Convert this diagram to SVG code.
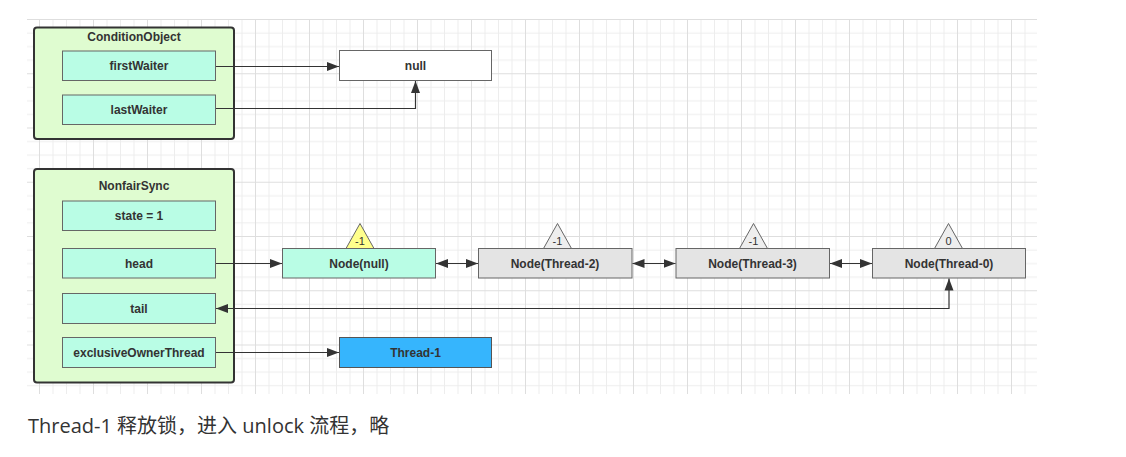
<svg xmlns="http://www.w3.org/2000/svg" width="1126" height="457" viewBox="0 0 1126 457">
  <defs>
    <pattern id="grid" patternUnits="userSpaceOnUse" x="39" y="19" width="54" height="54.25">
      <path d="M14,0V54.25M27.5,0V54.25M41,0V54.25M0,14H54M0,27.6H54M0,41.2H54" stroke="#ededed" stroke-width="1" fill="none"/>
      <path d="M0.5,0V54.25M0,0.5H54" stroke="#dedede" stroke-width="1" fill="none"/>
    </pattern>
    <marker id="arr" markerUnits="userSpaceOnUse" markerWidth="12" markerHeight="10" viewBox="0 0 12 10" refX="12" refY="5" orient="auto-start-reverse">
      <path d="M0,0.5L12,5L0,9.5z" fill="#333"/>
    </marker>
  </defs>
  <style>
    .container { fill: #dffcd0; stroke: #333; stroke-width: 2; }
    .field { fill: #b9fde5; stroke: #666; stroke-width: 1; }
    .gnode { fill: #e4e4e4; stroke: #666; stroke-width: 1; }
    .lbl { font-family: "Liberation Sans", Arial, sans-serif; font-size: 12px; font-weight: bold; fill: #333; text-anchor: middle; }
    .tri { stroke: #666; stroke-width: 1; }
    .tlbl { font-family: "Liberation Sans", Arial, sans-serif; font-size: 11px; fill: #333; text-anchor: middle; }
    .conn { fill: none; stroke: #333; stroke-width: 1.2; }
  </style>
  <rect x="0" y="0" width="1126" height="457" fill="#ffffff"/>
  <rect x="27" y="19" width="1010" height="375" fill="url(#grid)"/>

  <g id="ConditionObject">
    <rect class="container" x="34" y="27.5" width="200" height="111.5" rx="3"/>
    <text class="lbl" x="134" y="41">ConditionObject</text>
  </g>
  <g id="firstWaiter">
    <rect class="field" x="62.5" y="51" width="153" height="29.5"/>
    <text class="lbl" x="139" y="70">firstWaiter</text>
  </g>
  <g id="lastWaiter">
    <rect class="field" x="62.5" y="95" width="153" height="29.5"/>
    <text class="lbl" x="139" y="114">lastWaiter</text>
  </g>
  <g id="null">
    <rect x="339.5" y="50.5" width="152" height="30" fill="#ffffff" stroke="#666" stroke-width="1"/>
    <text class="lbl" x="415.5" y="70">null</text>
  </g>

  <g id="NonfairSync">
    <rect class="container" x="34" y="169" width="200" height="213.5" rx="3"/>
    <text class="lbl" x="134" y="190">NonfairSync</text>
  </g>
  <g id="state">
    <rect class="field" x="62.5" y="201" width="153" height="29.5"/>
    <text class="lbl" x="139" y="220">state = 1</text>
  </g>
  <g id="head">
    <rect class="field" x="62.5" y="248.5" width="153" height="29.5"/>
    <text class="lbl" x="139" y="267.5">head</text>
  </g>
  <g id="tail">
    <rect class="field" x="62.5" y="293.5" width="153" height="30"/>
    <text class="lbl" x="139" y="313">tail</text>
  </g>
  <g id="exclusiveOwnerThread">
    <rect class="field" x="62.5" y="337.5" width="153" height="30"/>
    <text class="lbl" x="139" y="357">exclusiveOwnerThread</text>
  </g>
  <g id="Thread-1">
    <rect x="339.5" y="337.5" width="152" height="30" fill="#36b5fd" stroke="#555" stroke-width="1"/>
    <text class="lbl" x="415.5" y="357">Thread-1</text>
  </g>

  <g id="NodeNull">
    <rect class="field" x="282.5" y="248.5" width="153" height="29.5"/>
    <text class="lbl" x="359" y="267.5">Node(null)</text>
    <path class="tri" d="M360,223.5L374,248.5H346z" fill="#ffff8c"/>
    <text class="tlbl" x="360" y="244.5">-1</text>
  </g>
  <g id="NodeThread2">
    <rect class="gnode" x="478.5" y="248.5" width="153.5" height="29.5"/>
    <text class="lbl" x="555" y="267.5">Node(Thread-2)</text>
    <path class="tri" d="M557.5,223.5L571.5,248.5H543.5z" fill="#eeeeee"/>
    <text class="tlbl" x="557.5" y="244.5">-1</text>
  </g>
  <g id="NodeThread3">
    <rect class="gnode" x="676" y="248.5" width="153.5" height="29.5"/>
    <text class="lbl" x="752.5" y="267.5">Node(Thread-3)</text>
    <path class="tri" d="M753.5,223.5L767.5,248.5H739.5z" fill="#eeeeee"/>
    <text class="tlbl" x="753.5" y="244.5">-1</text>
  </g>
  <g id="NodeThread0">
    <rect class="gnode" x="872.5" y="248.5" width="153" height="29.5"/>
    <text class="lbl" x="949" y="267.5">Node(Thread-0)</text>
    <path class="tri" d="M948.5,223.5L962.5,248.5H934.5z" fill="#eeeeee"/>
    <text class="tlbl" x="948.5" y="244.5">0</text>
  </g>

  <g id="connectors">
    <path class="conn" d="M216,66.5H339" stroke-width="1" marker-end="url(#arr)"/>
    <path class="conn" d="M216,108.5H415.5V81" marker-end="url(#arr)"/>
    <path class="conn" d="M216,263.5H282" marker-end="url(#arr)"/>
    <path class="conn" d="M436,263.5H478" marker-start="url(#arr)" marker-end="url(#arr)"/>
    <path class="conn" d="M632.5,263.5H675.5" marker-start="url(#arr)" marker-end="url(#arr)"/>
    <path class="conn" d="M830,263.5H872" marker-start="url(#arr)" marker-end="url(#arr)"/>
    <path class="conn" d="M216,308.5H949V278.5" marker-start="url(#arr)" marker-end="url(#arr)"/>
    <path class="conn" d="M216,352.5H339" stroke-width="1" marker-end="url(#arr)"/>
  </g>

  <text x="28" y="433" font-family="'Open Sans', 'Noto Sans CJK SC', sans-serif" font-size="20" fill="#333">Thread-1 释放锁，进入 unlock 流程，略</text>
</svg>
